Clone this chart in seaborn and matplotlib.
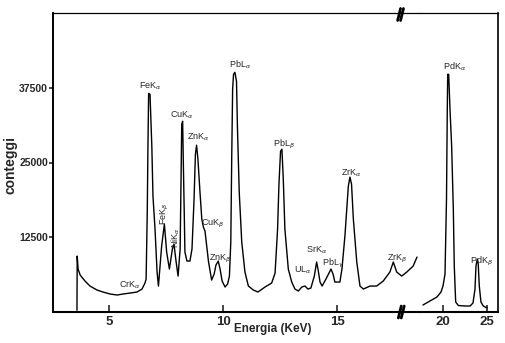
import matplotlib
matplotlib.use("Agg")
import matplotlib.pyplot as plt
import pandas as pd
import seaborn as sns

# XRF spectrum, low-energy segment (keV, counts)
energy_low = [3.59, 3.60, 3.64, 3.73, 3.94, 4.16, 4.47, 4.73, 5.04, 5.35, 5.61, 5.92,
              6.22, 6.44, 6.57, 6.62, 6.67, 6.70, 6.73, 6.79, 6.87, 6.92, 7.01, 7.10,
              7.16, 7.30, 7.42, 7.52, 7.64, 7.77, 7.84, 7.93, 8.02, 8.11, 8.15, 8.18,
              8.22, 8.25, 8.29, 8.32, 8.41, 8.54, 8.63, 8.72, 8.78, 8.83, 8.89, 8.98,
              9.06, 9.13, 9.20, 9.29, 9.35, 9.49, 9.60, 9.68, 9.78, 9.86, 9.95, 10.08,
              10.19, 10.27, 10.33, 10.37, 10.41, 10.45, 10.51, 10.58, 10.62, 10.70,
              10.81, 10.95, 11.10, 11.32, 11.52, 11.83, 12.12, 12.27, 12.38, 12.44,
              12.51, 12.57, 12.63, 12.70, 12.85, 13.00, 13.14, 13.29, 13.44, 13.58,
              13.71, 13.84, 13.99, 14.09, 14.15, 14.24, 14.33, 14.50, 14.72, 14.81,
              14.89, 15.03, 15.11, 15.20, 15.33, 15.48, 15.55, 15.62, 15.70, 15.85,
              15.99, 16.14, 16.43, 16.72, 17.01, 17.30, 17.45, 17.60, 17.82, 18.04,
              18.32, 18.49]
counts_low = [300, 9350, 7180, 6180, 5180, 4340, 3670, 3340, 3010, 2840, 3010, 3170,
              3340, 3840, 4840, 5510, 16700, 27720, 36570, 36400, 27720, 19370, 13860, 6680,
              4340, 11020, 14700, 10020, 7180, 10520, 11360, 8520, 6010, 10520, 22210, 31400,
              31900, 25050, 16700, 10020, 8520, 8520, 10520, 18870, 26390, 27890, 25550, 20040,
              15530, 14200, 13530, 10520, 8520, 5340, 6350, 7850, 8520, 7180, 5180, 4180,
              4680, 6010, 11690, 25550, 37240, 39750, 40080, 38580, 31060, 20040,
              11690, 6680, 4340, 3670, 3340, 4180, 4840, 6510, 13860, 21380,
              26890, 27220, 22210, 13860, 7180, 5010, 3840, 3510, 4180, 4340,
              3840, 4010, 6010, 8350, 7180, 5010, 4340, 5510, 7180, 6350,
              5010, 5010, 5010, 7180, 12690, 21040, 22550, 21380, 15530, 8350,
              4340, 3840, 4340, 4340, 5180, 6680, 8350, 6680, 6010, 6680,
              7680, 9190]

# High-energy segment (Pd lines)
energy_high = [17.71, 18.51, 19.31, 19.77, 20.00, 20.23, 20.40, 20.49, 20.54, 20.65,
               20.80, 20.99, 21.18, 21.29, 21.45, 21.75, 22.51, 23.09, 23.43, 23.66,
               23.77, 23.92, 24.03, 24.15, 24.34, 24.61, 25.03]
counts_high = [1170, 1840, 2510, 3340, 4340, 6350, 18870, 33900, 39750, 39750,
               33900, 27720, 17200, 7680, 1670, 1090, 1000, 1000, 1500, 3840,
               7680, 8850, 8020, 4340, 1670, 1000, 670]

y_ticks = [12500, 25000, 37500]
x_ticks_low = [5, 10, 15]
x_ticks_high = [20, 25]

# Peak labels: (text, energy, counts, rotation)
labels_low = [
    ("CrK$_\\alpha$", 5.92, 4500, 0),
    ("FeK$_\\alpha$", 6.82, 37800, 0),
    ("FeK$_\\beta$", 7.45, 16400, 90),
    ("NiK$_\\alpha$", 7.90, 12500, 90),
    ("CuK$_\\alpha$", 8.18, 32900, 0),
    ("ZnK$_\\alpha$", 8.90, 29200, 0),
    ("CuK$_\\beta$", 9.55, 14700, 0),
    ("ZnK$_\\beta$", 9.85, 8850, 0),
    ("PbL$_\\alpha$", 10.73, 41300, 0),
    ("PbL$_\\beta$", 12.65, 28000, 0),
    ("UL$_\\alpha$", 13.50, 7000, 0),
    ("SrK$_\\alpha$", 14.07, 10400, 0),
    ("PbL$_\\gamma$", 14.80, 8200, 0),
    ("ZrK$_\\alpha$", 15.60, 23200, 0),
    ("ZrK$_\\beta$", 17.62, 8800, 0),
]
labels_high = [
    ("PdK$_\\alpha$", 21.35, 41000, 0),
    ("PdK$_\\beta$", 24.45, 8400, 0),
]

sns.set_style("white")
plt.rcParams["font.family"] = ["Liberation Sans", "DejaVu Sans"]

W, H = 505, 343
fig = plt.figure(figsize=(W / 100, H / 100), dpi=100)
left, right, top, bottom, split = 53, 498, 13, 312, 420
ax1 = fig.add_axes([left / W, (H - bottom) / H, (split - left) / W, (bottom - top) / H])
ax2 = fig.add_axes([split / W, (H - bottom) / H, (right - split) / W, (bottom - top) / H])

df_low = pd.DataFrame({"Energia": energy_low, "conteggi": counts_low})
df_high = pd.DataFrame({"Energia": energy_high, "conteggi": counts_high})
sns.lineplot(data=df_low, x="Energia", y="conteggi", ax=ax1, color="black",
             lw=1.0, sort=False, estimator=None)
sns.lineplot(data=df_high, x="Energia", y="conteggi", ax=ax2, color="black",
             lw=1.0, sort=False, estimator=None)

ax1.set_xlim(2.54, 18.62)
ax2.set_xlim(17.37, 26.29)
for ax in (ax1, ax2):
    ax.set_ylim(0, 50000)
    ax.set_xlabel("")
    ax.set_ylabel("")
    for s in ax.spines.values():
        s.set_color("black")
    ax.spines["bottom"].set_linewidth(1.5)
    ax.spines["top"].set_linewidth(0.9)

ax1.spines["right"].set_visible(False)
ax2.spines["left"].set_visible(False)
ax1.spines["left"].set_linewidth(1.4)
ax2.spines["right"].set_linewidth(1.2)

ax1.set_yticks(y_ticks)
ax1.set_yticklabels([str(v) for v in y_ticks])
ax1.tick_params(axis="y", direction="out", length=3, width=1.2, pad=0.5,
                labelsize=7.5, left=True)
ax2.set_yticks([])
ax1.set_xticks(x_ticks_low)
ax1.set_xticklabels([str(v) for v in x_ticks_low])
ax2.set_xticks(x_ticks_high)
ax2.set_xticklabels([str(v) for v in x_ticks_high])
for ax in (ax1, ax2):
    ax.tick_params(axis="x", direction="in", length=5, width=1.2, pad=3,
                   labelsize=9.5, bottom=True)
    for lbl in ax.get_xticklabels() + ax.get_yticklabels():
        lbl.set_fontweight("bold")

for txt, x, y, rot in labels_low:
    ax1.text(x, y, txt, fontsize=6.5, ha="center", va="center", rotation=rot)
for txt, x, y, rot in labels_high:
    ax2.text(x, y, txt, fontsize=6.5, ha="center", va="center", rotation=rot)

# break marks on the top and bottom axis lines
for xf in (0.945, 0.953):
    ax1.plot([xf - 0.004, xf + 0.004], [-0.02, 0.02], transform=ax1.transAxes,
             color="black", lw=2.0, clip_on=False)
    ax1.plot([xf - 0.006, xf + 0.002], [0.975, 1.015], transform=ax1.transAxes,
             color="black", lw=2.0, clip_on=False)

fig.text(11 / W, 1 - 165 / H, "conteggi", rotation=90, ha="center", va="center",
         fontsize=10, fontweight="bold")
fig.text(273 / W, 1 - 329 / H, "Energia (KeV)", ha="center", va="center",
         fontsize=8.5, fontweight="bold")

fig.savefig("out.png", dpi=100, facecolor="white")
